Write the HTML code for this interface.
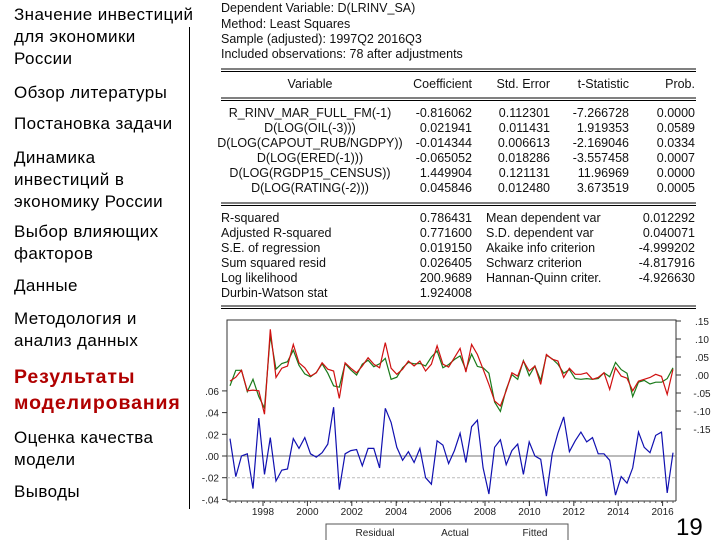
<!DOCTYPE html>
<html><head><meta charset="utf-8">
<style>
body{margin:0;width:720px;height:540px;background:#fff;overflow:hidden;position:relative;font-family:"Liberation Sans",Arial,sans-serif;}
.nav{position:absolute;left:14px;font-size:17px;letter-spacing:0.4px;line-height:22px;color:#000;white-space:nowrap;}
.nav.active{color:#b00000;font-weight:bold;font-size:19.5px;letter-spacing:0.9px;line-height:26px;}
#sep{position:absolute;left:189px;top:27px;width:1px;height:482px;background:#000;}
#num{position:absolute;left:676px;top:514px;font-size:24px;}
</style></head><body>
<div class="nav" style="top:4px">Значение инвестиций<br>для экономики<br>России</div>
<div class="nav" style="top:82px">Обзор литературы</div>
<div class="nav" style="top:113px">Постановка задачи</div>
<div class="nav" style="top:147px">Динамика<br>инвестиций в<br>экономику России</div>
<div class="nav" style="top:221px">Выбор влияющих<br>факторов</div>
<div class="nav" style="top:275px">Данные</div>
<div class="nav" style="top:308px">Методология и<br>анализ данных</div>
<div class="nav active" style="top:364px">Результаты<br>моделирования</div>
<div class="nav" style="top:427px">Оценка качества<br>модели</div>
<div class="nav" style="top:481px">Выводы</div>
<div id="sep"></div>
<div id="num">19</div>

<svg width="720" height="540" style="position:absolute;left:0;top:0" font-family="Liberation Sans, Arial, sans-serif">
<g font-size="12.5" fill="#111">
<text x="221" y="12">Dependent Variable: D(LRINV_SA)</text>
<text x="221" y="28">Method: Least Squares</text>
<text x="221" y="43">Sample (adjusted): 1997Q2 2016Q3</text>
<text x="221" y="58">Included observations: 78 after adjustments</text>
</g>
<g stroke="#000" stroke-width="1">
<line x1="221" y1="69" x2="696" y2="69"/><line x1="221" y1="71.5" x2="696" y2="71.5"/>
<line x1="221" y1="98" x2="696" y2="98"/><line x1="221" y1="100.5" x2="696" y2="100.5"/>
<line x1="221" y1="203" x2="696" y2="203"/><line x1="221" y1="205.5" x2="696" y2="205.5"/>
<line x1="221" y1="306" x2="696" y2="306"/><line x1="221" y1="308.5" x2="696" y2="308.5"/>
</g>
<g font-size="12.5" fill="#111" id="tbl"></g>

<g id="chart"></g>
<g>
<path d="M326 540 V524 H568 V540" fill="none" stroke="#555"/>
<text x="375" y="536" font-size="10" text-anchor="middle" fill="#222">Residual</text>
<text x="455" y="536" font-size="10" text-anchor="middle" fill="#222">Actual</text>
<text x="535" y="536" font-size="10" text-anchor="middle" fill="#222">Fitted</text>
</g>
</svg>
<script>
var NS='http://www.w3.org/2000/svg';
var variables=['R_RINV_MAR_FULL_FM(-1)','D(LOG(OIL(-3)))','D(LOG(CAPOUT_RUB/NGDPY))','D(LOG(ERED(-1)))','D(LOG(RGDP15_CENSUS))','D(LOG(RATING(-2)))'];
var coefs=['-0.816062','0.021941','-0.014344','-0.065052','1.449904','0.045846'];
var stderrs=['0.112301','0.011431','0.006613','0.018286','0.121131','0.012480'];
var tstats=['-7.266728','1.919353','-2.169046','-3.557458','11.96969','3.673519'];
var probs=['0.0000','0.0589','0.0334','0.0007','0.0000','0.0005'];
var statNames1=['R-squared','Adjusted R-squared','S.E. of regression','Sum squared resid','Log likelihood','Durbin-Watson stat'];
var statVals1=['0.786431','0.771600','0.019150','0.026405','200.9689','1.924008'];
var statNames2=['Mean dependent var','S.D. dependent var','Akaike info criterion','Schwarz criterion','Hannan-Quinn criter.'];
var statVals2=['0.012292','0.040071','-4.999202','-4.817916','-4.926630'];

var residual=[0.016,-0.019,0.000,0.002,-0.030,0.035,-0.017,0.017,-0.023,-0.013,-0.012,0.016,0.007,0.017,0.002,-0.001,0.003,0.011,0.045,-0.031,0.002,0.005,0.006,-0.009,0.007,0.007,-0.011,0.044,0.031,0.008,-0.004,0.004,-0.006,0.007,-0.020,-0.026,0.014,0.010,-0.007,0.005,0.021,-0.006,0.027,0.033,-0.011,-0.035,0.008,0.015,-0.008,0.005,0.011,-0.017,0.013,0.000,-0.003,-0.037,0.002,0.021,0.036,0.004,0.014,0.022,0.013,0.017,0.002,0.002,-0.004,-0.036,-0.019,-0.025,-0.011,0.022,0.008,0.003,0.019,0.022,-0.034,0.003];
var actual=[-0.017,-0.006,0.013,-0.044,-0.042,-0.044,-0.109,0.127,-0.007,0.019,0.025,0.085,0.034,0.020,-0.003,0.006,0.034,0.016,0.011,-0.065,0.034,0.019,0.006,0.025,0.048,0.030,0.020,0.090,0.019,0.002,0.016,0.039,0.025,0.039,0.011,0.030,0.081,0.030,0.022,0.048,0.074,0.008,0.085,0.057,0.016,-0.026,-0.072,-0.086,-0.044,0.006,-0.003,0.039,0.011,0.025,-0.026,0.057,0.044,0.039,-0.007,0.019,0.002,0.002,0.006,-0.012,-0.007,0.006,-0.040,0.020,-0.003,-0.009,-0.044,-0.017,-0.012,-0.007,0.002,-0.004,-0.054,0.016];
var fitted=[-0.030,0.013,0.013,-0.046,-0.012,-0.060,-0.092,0.110,0.016,0.032,0.037,0.069,0.027,0.003,-0.005,0.007,0.031,0.005,-0.030,-0.034,0.032,0.014,0.000,0.030,0.041,0.023,0.031,0.046,-0.012,-0.006,0.020,0.035,0.031,0.032,0.025,0.050,0.067,0.020,0.029,0.043,0.053,0.014,0.058,0.024,0.020,0.005,-0.075,-0.101,-0.040,0.001,-0.012,0.040,-0.002,0.025,-0.015,0.055,0.045,0.030,0.005,0.015,-0.010,-0.012,-0.010,-0.012,-0.010,0.006,-0.005,0.035,0.015,0.005,-0.060,-0.020,-0.015,-0.025,-0.020,-0.020,-0.010,0.020];
var leftTicks=[0.06,0.04,0.02,0.00,-0.02,-0.04];
var leftTickLabels=['.06','.04','.02','.00','-.02','-.04'];
var rightTicks=[0.15,0.10,0.05,0.00,-0.05,-0.10,-0.15];
var rightTickLabels=['.15','.10','.05','.00','-.05','-.10','-.15'];
var yearLabels=[1998,2000,2002,2004,2006,2008,2010,2012,2014,2016];

function mk(parent,tag,attrs,txt){var e=document.createElementNS(NS,tag);for(var k in attrs)e.setAttribute(k,attrs[k]);if(txt!=null)e.textContent=txt;parent.appendChild(e);return e;}

var tbl=document.getElementById('tbl');
var h=[['Variable',310,'middle'],['Coefficient',472,'end'],['Std. Error',550,'end'],['t-Statistic',629,'end'],['Prob.',695,'end']];
h.forEach(function(c){var t=mk(tbl,'text',{x:c[1],y:88,'text-anchor':c[2]},c[0]);

});
for(var i=0;i<variables.length;i++){
  var y=117+i*15;
  var r=[[variables[i],310,'middle'],[coefs[i],472,'end'],[stderrs[i],550,'end'],[tstats[i],629,'end'],[probs[i],695,'end']];
  r.forEach(function(c){var t=mk(tbl,'text',{x:c[1],y:y,'text-anchor':c[2]},c[0]);
  
  });
}
for(var i=0;i<statNames1.length;i++){
  var y=222+i*15;
  var a=mk(tbl,'text',{x:221,y:y},statNames1[i]);
  
  
  var b=mk(tbl,'text',{x:472,y:y,'text-anchor':'end'},statVals1[i]);
  
  
  if(i<statNames2.length){
    var c=mk(tbl,'text',{x:486,y:y},statNames2[i]);
    
    
    var d=mk(tbl,'text',{x:695,y:y,'text-anchor':'end'},statVals2[i]);
    
    
  }
}

var ch=document.getElementById('chart');
var X0=227,X1=676,T=320,B=501;
function xi(i){return 230+i*(673-230)/77;}
function yl(v){return 456-v*1085;}
function yr(v){return 375-v*360;}
function xYear(y){return 263+(y-1998)*22.2;}
mk(ch,'path',{d:'M'+X0+' '+B+' V'+T+' H'+X1+' V'+B,fill:'none',stroke:'#333','stroke-width':1});
mk(ch,'line',{x1:X0,y1:B,x2:X1,y2:B,stroke:'#333'});
mk(ch,'line',{x1:X0,y1:yl(0),x2:X1,y2:yl(0),stroke:'#777'});
mk(ch,'line',{x1:X0,y1:yl(-0.02),x2:X1,y2:yl(-0.02),stroke:'#bbb','stroke-dasharray':'3,2'});
leftTicks.forEach(function(v,k){
  mk(ch,'line',{x1:X0-5,y1:yl(v),x2:X0,y2:yl(v),stroke:'#333'});
  var t=mk(ch,'text',{x:X0-8,y:yl(v)+4,'text-anchor':'end','font-size':10,fill:'#222'},leftTickLabels[k]);
  
  
});
rightTicks.forEach(function(v,k){
  mk(ch,'line',{x1:X1,y1:yr(v),x2:X1+5,y2:yr(v),stroke:'#333'});
  var t=mk(ch,'text',{x:X1+26,y:yr(v)+4,'text-anchor':'middle','font-size':10,fill:'#222'},rightTickLabels[k]);
  
  
});
for(var q=0;q<78;q++){mk(ch,'line',{x1:xi(q),y1:B,x2:xi(q),y2:B+2,stroke:'#555'});}
yearLabels.forEach(function(y){
  mk(ch,'line',{x1:xYear(y),y1:B,x2:xYear(y),y2:B+5,stroke:'#333'});
  var t=mk(ch,'text',{x:xYear(y),y:B+14,'text-anchor':'middle','font-size':10,fill:'#222'},String(y));
  
  
});
function line(arr,fy,col,name){
  var d=arr.map(function(v,i){return (i?'L':'M')+xi(i).toFixed(1)+' '+fy(v).toFixed(1);}).join(' ');
  var p=mk(ch,'path',{d:d,fill:'none',stroke:col,'stroke-width':1.2});
  
  
}
line(fitted,yr,'#1a7a1a','fitted-line');
line(actual,yr,'#d01010','actual-line');
line(residual,yl,'#1010b0','residual-line');
</script>
</body></html>
